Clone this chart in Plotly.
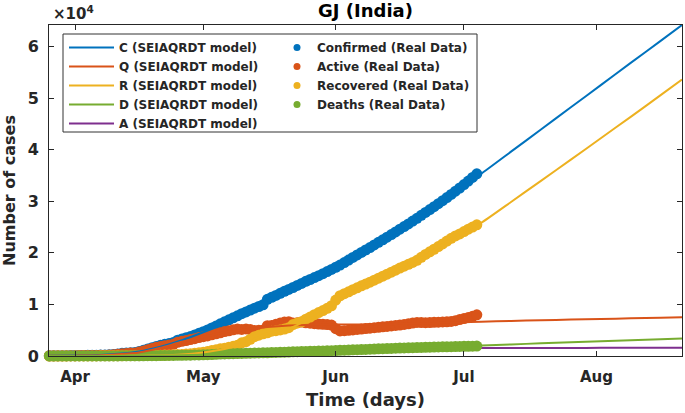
import plotly.graph_objects as go
import pandas as pd

# ---------------- data ----------------
data_start = "2020-03-26"
data_end = "2020-07-04"

confirmed = [43, 45, 55, 63, 69, 74,
             87, 95, 105, 122, 144, 146, 175, 186, 241, 308, 378, 516, 572, 650, 695,
             871, 1099, 1376, 1604, 1851, 2066, 2272, 2407, 2624, 3071, 3301, 3548, 3774, 4082, 4395,
             4721, 5054, 5428, 5804, 6245, 6625, 7012, 7402, 7796, 8195, 8541, 8903, 9268, 9592, 9931,
             10989, 11379, 11746, 12141, 12539, 12910, 13273, 13669, 14063, 14468, 14829, 15205, 15572,
             15944, 16356, 16779,
             17200, 17617, 18100, 18584, 19094, 19592, 20070, 20545, 21014, 21521, 22032, 22527, 23038,
             23544, 24055, 24577, 25093, 25601, 26141, 26680, 27260, 27825, 28371, 28943, 29520, 30095,
             30709, 31320, 31938, 32557,
             33232, 33913, 34600, 35312]

active = [40, 41, 50, 57, 62, 63,
          72, 77, 81, 97, 111, 113, 134, 145, 198, 256, 323, 447, 492, 563, 601,
          771, 985, 1230, 1452, 1678, 1858, 2003, 2125, 2254, 2662, 2855, 3003, 3178, 3358, 3568,
          3738, 3896, 4096, 4290, 4496, 4729, 4878, 5081, 5233, 5157, 5248, 5120, 4955, 4971, 5017,
          5865, 5916, 6135, 6379, 6571, 6649, 6380, 6428, 6569, 6441, 6367, 6258, 6200, 6150, 6100, 6000,
          5300, 4850, 4900, 4980, 5060, 5150, 5230, 5320, 5400, 5480, 5560, 5650, 5740, 5830, 5920,
          6010, 6120, 6240, 6380, 6500, 6480, 6450, 6470, 6520, 6560, 6600, 6640, 6700, 6850, 7050,
          7250, 7450, 7700, 7972]

recovered = [0, 1, 1, 1, 1, 5,
             8, 10, 14, 14, 21, 21, 25, 25, 26, 33, 33, 44, 54, 59, 64,
             64, 73, 93, 94, 106, 131, 179, 179, 258, 282, 313, 394, 434, 527, 613,
             747, 896, 1042, 1195, 1381, 1500, 1709, 1872, 2091, 2545, 2780, 3246, 3753, 4035, 4308,
             4499, 4804, 4917, 5043, 5219, 5488, 6091, 6412, 6636, 7139, 7547, 8009, 8412, 8814, 9249, 9741,
             10837, 11675, 12078, 12449, 12844, 13223, 13591, 13945, 14301, 14694, 15087, 15461, 15850,
             16237, 16630, 17033, 17413, 17770, 18142, 18542, 19117, 19691, 20191, 20688, 21207, 21724,
             22280, 22812, 23261, 23659,
             24113, 24575, 24996, 25414]

deaths = [3, 3, 4, 5, 6, 6,
          7, 8, 10, 11, 12, 12, 16, 16, 17, 19, 22, 25, 26, 28, 30,
          36, 41, 53, 58, 67, 77, 90, 103, 112, 127, 133, 151, 162, 197, 214,
          236, 262, 290, 319, 368, 396, 425, 449, 472, 493, 513, 537, 560, 586, 606,
          625, 659, 694, 719, 749, 773, 802, 829, 858, 888, 915, 938, 960, 980, 1007, 1038,
          1063, 1092, 1122, 1155, 1190, 1219, 1249, 1280, 1313, 1347, 1385, 1416, 1448, 1477, 1505,
          1534, 1560, 1591, 1619, 1638, 1663, 1684, 1710, 1735, 1753, 1771, 1789, 1808, 1827, 1848,
          1869, 1888, 1904, 1926]

model_dates = ["2020-03-26", "2020-04-01", "2020-04-06", "2020-04-11", "2020-04-16", "2020-04-21",
               "2020-04-26", "2020-05-01", "2020-05-06", "2020-05-11", "2020-05-16", "2020-05-21",
               "2020-05-26", "2020-05-31", "2020-06-05", "2020-06-10", "2020-06-15", "2020-06-20",
               "2020-06-25", "2020-06-30", "2020-07-05", "2020-07-12", "2020-07-19", "2020-07-26",
               "2020-08-02", "2020-08-09", "2020-08-16", "2020-08-21"]
model_C = [45, 90, 160, 420, 880, 1800, 3050, 4600, 6300, 8400, 10700, 12800,
           14700, 16700, 19000, 21500, 24100, 26700, 29400, 32500, 35300, 39600, 43900, 48200,
           52500, 56800, 61080, 64150]
model_Q = [40, 70, 110, 330, 700, 1600, 2750, 3700, 4600, 5150, 5600, 5900,
           6050, 6100, 6100, 6150, 6200, 6300, 6400, 6500, 6650, 6800, 6930, 7060,
           7180, 7300, 7420, 7500]
model_R = [0, 8, 20, 35, 65, 110, 280, 700, 1350, 2500, 4400, 5300,
           7300, 9800, 12900, 14700, 16600, 18500, 21100, 23700, 25800, 29850, 33950, 38050,
           42200, 46350, 50550, 53600]
model_D = [3, 7, 12, 20, 33, 65, 130, 230, 380, 500, 620, 760,
           900, 1040, 1190, 1340, 1500, 1630, 1750, 1850, 2050, 2250, 2450, 2650,
           2850, 3050, 3250, 3400]
model_A = [20, 30, 50, 90, 160, 260, 380, 500, 620, 720, 830, 930,
           1020, 1100, 1180, 1250, 1320, 1380, 1440, 1490, 1540, 1550, 1560, 1570,
           1580, 1590, 1600, 1600]

model_names = ["C (SEIAQRDT model)", "Q (SEIAQRDT model)", "R (SEIAQRDT model)",
               "D (SEIAQRDT model)", "A (SEIAQRDT model)"]
data_names = ["Confirmed (Real Data)", "Active (Real Data)", "Recovered (Real Data)",
              "Deaths (Real Data)"]

y_tick_vals = [0, 10000, 20000, 30000, 40000, 50000, 60000]
y_tick_text = ["0", "1", "2", "3", "4", "5", "6"]
x_tick_vals = ["2020-04-01", "2020-05-01", "2020-06-01", "2020-07-01", "2020-08-01"]
x_tick_text = ["Apr", "May", "Jun", "Jul", "Aug"]

BLUE, RED, YEL, PUR, GRN = "#0072BD", "#D95319", "#EDB120", "#7E2F8E", "#77AC30"
FONT = "DejaVu Sans, Liberation Sans, Arial, sans-serif"
AX = "#262626"
TXT = "#262626"

data_dates = pd.date_range(data_start, data_end, freq="D")

fig = go.Figure()

MS = 11

def markers(y, color):
    return go.Scatter(x=data_dates, y=y, mode="markers", showlegend=False, cliponaxis=False,
                      marker=dict(color=color, size=MS, symbol="circle", line=dict(width=0)),
                      hoverinfo="skip")

def mline(y, color, name, rank):
    return go.Scatter(x=model_dates, y=y, mode="lines", name=name, legend="legend",
                      legendrank=rank, line=dict(color=color, width=2, shape="spline", smoothing=0.5))

fig.add_trace(markers(confirmed, BLUE))
fig.add_trace(markers(active, RED))
fig.add_trace(markers(recovered, YEL))
fig.add_trace(mline(model_A, PUR, model_names[4], 5))
fig.add_trace(markers(deaths, GRN))
fig.add_trace(mline(model_C, BLUE, model_names[0], 1))
fig.add_trace(mline(model_Q, RED, model_names[1], 2))
fig.add_trace(mline(model_R, YEL, model_names[2], 3))
fig.add_trace(mline(model_D, GRN, model_names[3], 4))

# legend entries for the real-data markers (small dots as in the reference legend)
for i, (nm, col) in enumerate(zip(data_names, [BLUE, RED, YEL, GRN])):
    fig.add_trace(go.Scatter(x=[None], y=[None], mode="markers", name=nm, legend="legend2",
                             legendrank=i + 1, marker=dict(color=col, size=7)))

W, H = 685, 413
ml, mr, mt, mb = 49, 3, 25, 57
pw, ph = W - ml - mr, H - mt - mb

def px_x(p):
    return (p - ml) / pw

def px_y(p):
    return (H - mb - p) / ph

legend_font = dict(family=FONT, size=12, color=TXT, weight="bold")

fig.update_layout(
    width=W, height=H,
    margin=dict(l=ml, r=mr, t=mt, b=mb, pad=0),
    paper_bgcolor="white", plot_bgcolor="white",
    font=dict(family=FONT, color=TXT),
    title=dict(text="<b>GJ (India)</b>", x=0.5, xref="paper", xanchor="center",
               y=1 - 11 / H, yanchor="middle", font=dict(size=18, color="#000000", family=FONT)),
    xaxis=dict(type="date", range=["2020-03-25 22:00", "2020-08-21 00:00"],
               tickvals=x_tick_vals, ticktext=x_tick_text,
               ticks="inside", ticklen=5, tickwidth=1, tickcolor=AX,
               showline=True, linecolor=AX, linewidth=1, mirror="allticks",
               showgrid=False, zeroline=False, ticklabelstandoff=7,
               tickfont=dict(size=15, color=TXT, weight="bold", family=FONT),
               title=dict(text="<b>Time (days)</b>", font=dict(size=18, color=TXT, family=FONT),
                          standoff=8)),
    yaxis=dict(range=[0, 64150], tickvals=y_tick_vals, ticktext=y_tick_text,
               ticks="inside", ticklen=5, tickwidth=1, tickcolor=AX,
               showline=True, linecolor=AX, linewidth=1, mirror="allticks",
               showgrid=False, zeroline=False, ticklabelstandoff=6,
               tickfont=dict(size=16, color=TXT, weight="bold", family=FONT),
               title=dict(text="<b>Number of cases</b>", font=dict(size=16, color=TXT, family=FONT),
                          standoff=8)),
    legend=dict(x=px_x(64), y=px_y(33), xanchor="left", yanchor="top",
                orientation="v", bgcolor="rgba(0,0,0,0)", borderwidth=0,
                font=legend_font, itemwidth=45, tracegroupgap=0, traceorder="normal"),
    legend2=dict(x=px_x(277), y=px_y(33), xanchor="left", yanchor="top",
                 orientation="v", bgcolor="rgba(0,0,0,0)", borderwidth=0,
                 font=legend_font, itemwidth=30, tracegroupgap=0, traceorder="normal"),
    shapes=[dict(type="rect", xref="paper", yref="paper",
                 x0=px_x(63), x1=px_x(477), y0=px_y(132), y1=px_y(34),
                 line=dict(color="#333333", width=1), fillcolor="white", layer="above")],
    annotations=[dict(text="<b>×10<sup>4</sup></b>", xref="paper", yref="paper",
                      x=px_x(51), y=px_y(13), xanchor="left", yanchor="middle", showarrow=False,
                      font=dict(size=15, color=TXT, family=FONT))],
)

fig.write_html("out.html", config={"displayModeBar": False},
               post_script="document.body.style.margin='0';")
